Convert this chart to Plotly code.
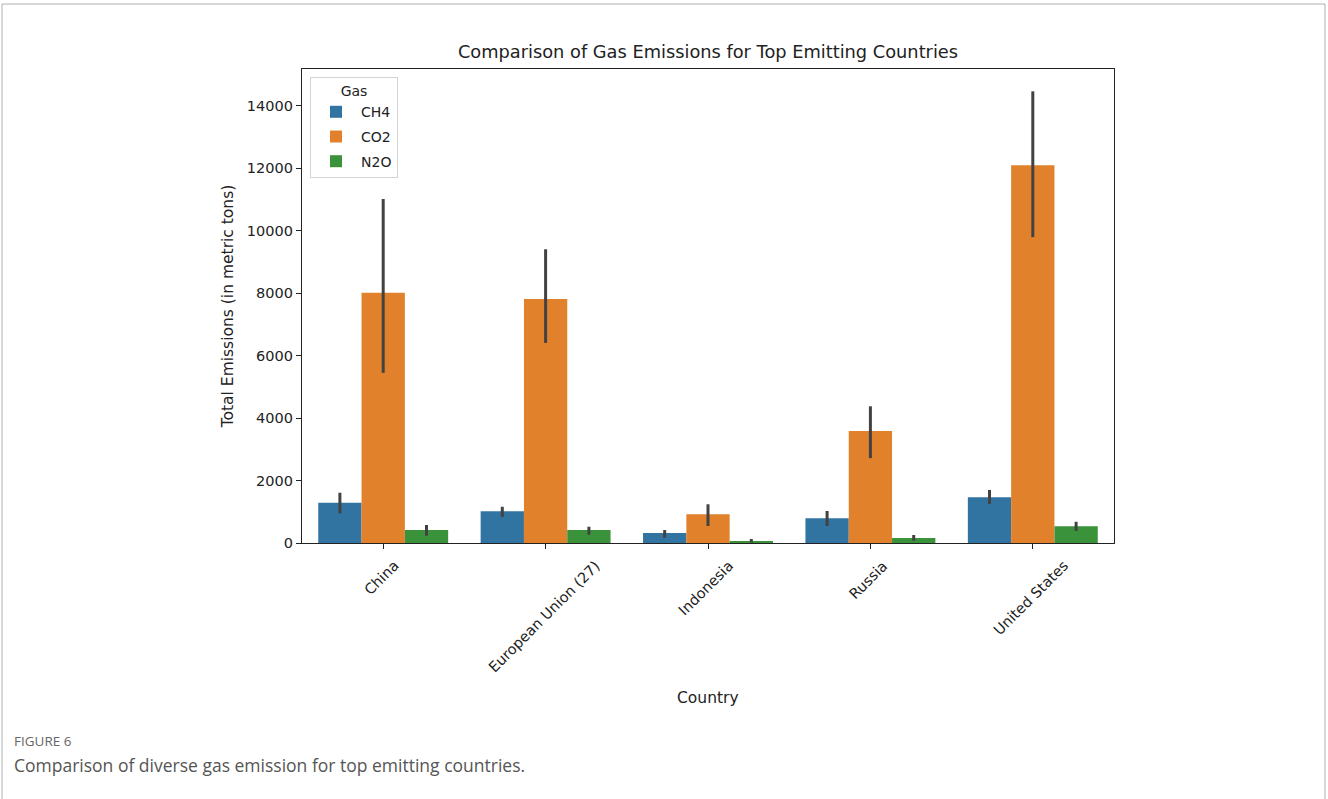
import plotly.graph_objects as go

countries = ["China", "European Union (27)", "Indonesia", "Russia", "United States"]
gases = ["CH4", "CO2", "N2O"]
ch4 = [1290, 1015, 320, 790, 1465]
ch4_hi = [1610, 1160, 415, 1025, 1700]
ch4_lo = [950, 835, 170, 545, 1250]
co2 = [8020, 7820, 920, 3590, 12100]
co2_hi = [11020, 9410, 1240, 4380, 14470]
co2_lo = [5450, 6410, 545, 2720, 9800]
n2o = [416, 416, 60, 160, 535]
n2o_hi = [577, 522, 128, 256, 680]
n2o_lo = [234, 266, 15, 74, 384]
yticks = [0, 2000, 4000, 6000, 8000, 10000, 12000, 14000]
colors = ["#3274a1", "#e1812c", "#3a923a"]

series = [(ch4, ch4_hi, ch4_lo), (co2, co2_hi, co2_lo), (n2o, n2o_hi, n2o_lo)]

fig = go.Figure()
for g, (v, hi, lo), c in zip(gases, series, colors):
    fig.add_trace(go.Bar(
        x=countries, y=v, name=g, legendgroup=g,
        marker=dict(color=c, line=dict(width=0)),
        error_y=dict(type="data", symmetric=False,
                     array=[h - a for h, a in zip(hi, v)],
                     arrayminus=[a - l for a, l in zip(v, lo)],
                     color="#424242", thickness=3, width=0),
    ))

font = "DejaVu Sans"
L, R, T, B = 302, 1114, 69, 543
PW, PH = R - L, B - T

fig.update_layout(
    width=1328, height=799,
    margin=dict(l=L, r=1328 - R, t=T, b=799 - B),
    paper_bgcolor="white", plot_bgcolor="white",
    barmode="group", bargap=0.2, bargroupgap=0,
    font=dict(family=font, size=14, color="#222"),
    title=dict(text="Comparison of Gas Emissions for Top Emitting Countries",
               x=(L + R) / 2 / 1328, xanchor="center", y=1 - 52 / 799, yanchor="middle",
               font=dict(size=17.8, color="#222", family=font)),
    showlegend=True,
    legend=dict(title=dict(text="Gas", side="top center", font=dict(size=14)),
                x=8 / PW, y=1 - 8 / PH, xanchor="left", yanchor="top",
                bgcolor="white", bordercolor="#d4d4d4", borderwidth=1,
                font=dict(size=14), itemwidth=40, tracegroupgap=3.5),
    xaxis=dict(range=[-0.5, 4.5], showticklabels=False, ticks="outside", ticklen=5,
               tickcolor="#222", showline=True, linecolor="#222", linewidth=1.2,
               mirror=True, showgrid=False),
    yaxis=dict(title=dict(text="Total Emissions (in metric tons)", font=dict(size=15.5), standoff=9),
               range=[0, 15185], tickvals=yticks, ticktext=[str(t) for t in yticks],
               ticks="outside", ticklen=5, tickcolor="#222",
               showline=True, linecolor="#222", linewidth=1.2, mirror=True,
               showgrid=False, zeroline=False, tickfont=dict(size=14.5)),
)

# rotated category labels (centered under the ticks, like matplotlib rotation=45)
for c in countries:
    fig.add_annotation(text=c, x=c, xref="x", yref="paper", y=-(555 - B) / PH,
                       xanchor="center", yanchor="top", textangle=-45, showarrow=False,
                       xshift=-2, font=dict(size=14.5, color="#222", family=font))

fig.add_annotation(text="Country", xref="paper", yref="paper", x=0.5, y=-(698 - B) / PH,
                   xanchor="center", yanchor="middle", showarrow=False,
                   font=dict(size=15.5, color="#222", family=font))

# page frame
fig.add_shape(type="rect", xref="paper", yref="paper",
              x0=(2 - L) / PW, x1=(1325 - L) / PW,
              y0=-0.62, y1=1 + (T - 4) / PH,
              line=dict(color="#b0b0b0", width=1), layer="below")

cap_font = "Open Sans, Noto Sans, sans-serif"
fig.add_annotation(text="FIGURE 6", xref="paper", yref="paper",
                   x=(12 - L) / PW, y=(B - 741) / PH, xanchor="left", yanchor="middle",
                   showarrow=False, font=dict(size=13.5, color="#666", family=cap_font))
fig.add_annotation(text="Comparison of diverse gas emission for top emitting countries.",
                   xref="paper", yref="paper",
                   x=(12 - L) / PW, y=(B - 765) / PH, xanchor="left", yanchor="middle",
                   showarrow=False, font=dict(size=17.5, color="#555", family=cap_font))

fig.write_html("out.html")
